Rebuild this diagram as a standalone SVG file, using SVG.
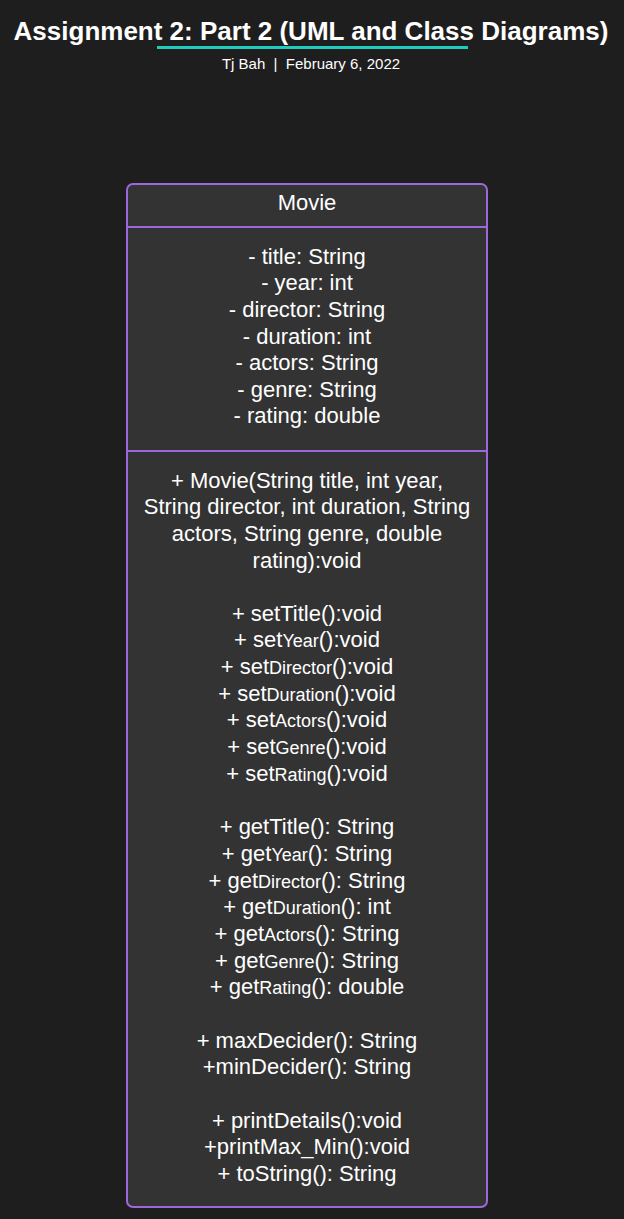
<svg xmlns="http://www.w3.org/2000/svg" width="624" height="1219" viewBox="0 0 624 1219">
  <style>
    .t { font-family: "Liberation Sans", Arial, sans-serif; fill: #ffffff; text-anchor: middle; }
    .title { font-size: 26px; font-weight: bold; }
    .sub { font-size: 15px; white-space: pre; }
    .m { font-size: 22px; }
    .s { font-size: 18px; }
    .frame { fill: #333333; stroke: #9d68db; stroke-width: 2; }
    .div { stroke: #9d68db; stroke-width: 2; }
  </style>
  <rect width="624" height="1219" fill="#1e1e1e"/>

  <g id="heading">
    <text class="t title" x="311" y="40">Assignment 2: Part 2 (UML and Class Diagrams)</text>
    <rect x="157" y="46" width="311" height="3" fill="#1ecbbd"/>
    <text class="t sub" x="311" y="69" xml:space="preserve">Tj Bah  |  February 6, 2022</text>
  </g>

  <g id="connectors"></g>

  <g id="movie">
    <rect class="frame" x="127" y="184" width="360" height="1023" rx="6"/>
    <line class="div" x1="127" y1="227" x2="487" y2="227"/>
    <line class="div" x1="127" y1="451" x2="487" y2="451"/>
    <text class="t m" x="307" y="210">Movie</text>

    <g class="t m">
      <text x="307" y="264">- title: String</text>
      <text x="307" y="290">- year: int</text>
      <text x="307" y="317">- director: String</text>
      <text x="307" y="344">- duration: int</text>
      <text x="307" y="370">- actors: String</text>
      <text x="307" y="397">- genre: String</text>
      <text x="307" y="423">- rating: double</text>

      <text x="307" y="488">+ Movie(String title, int year,</text>
      <text x="307" y="514">String director, int duration, String</text>
      <text x="307" y="541">actors, String genre, double</text>
      <text x="307" y="568">rating):void</text>

      <text x="307" y="621">+ setTitle():void</text>
      <text x="307" y="647">+ set<tspan class="s">Year</tspan>():void</text>
      <text x="307" y="674">+ set<tspan class="s">Director</tspan>():void</text>
      <text x="307" y="701">+ set<tspan class="s">Duration</tspan>():void</text>
      <text x="307" y="727">+ set<tspan class="s">Actors</tspan>():void</text>
      <text x="307" y="754">+ set<tspan class="s">Genre</tspan>():void</text>
      <text x="307" y="781">+ set<tspan class="s">Rating</tspan>():void</text>

      <text x="307" y="834">+ getTitle(): String</text>
      <text x="307" y="861">+ get<tspan class="s">Year</tspan>(): String</text>
      <text x="307" y="888">+ get<tspan class="s">Director</tspan>(): String</text>
      <text x="307" y="914">+ get<tspan class="s">Duration</tspan>(): int</text>
      <text x="307" y="941">+ get<tspan class="s">Actors</tspan>(): String</text>
      <text x="307" y="968">+ get<tspan class="s">Genre</tspan>(): String</text>
      <text x="307" y="994">+ get<tspan class="s">Rating</tspan>(): double</text>

      <text x="307" y="1048">+ maxDecider(): String</text>
      <text x="307" y="1074">+minDecider(): String</text>

      <text x="307" y="1128">+ printDetails():void</text>
      <text x="307" y="1154">+printMax_Min():void</text>
      <text x="307" y="1181">+ toString(): String</text>
    </g>
  </g>
</svg>
